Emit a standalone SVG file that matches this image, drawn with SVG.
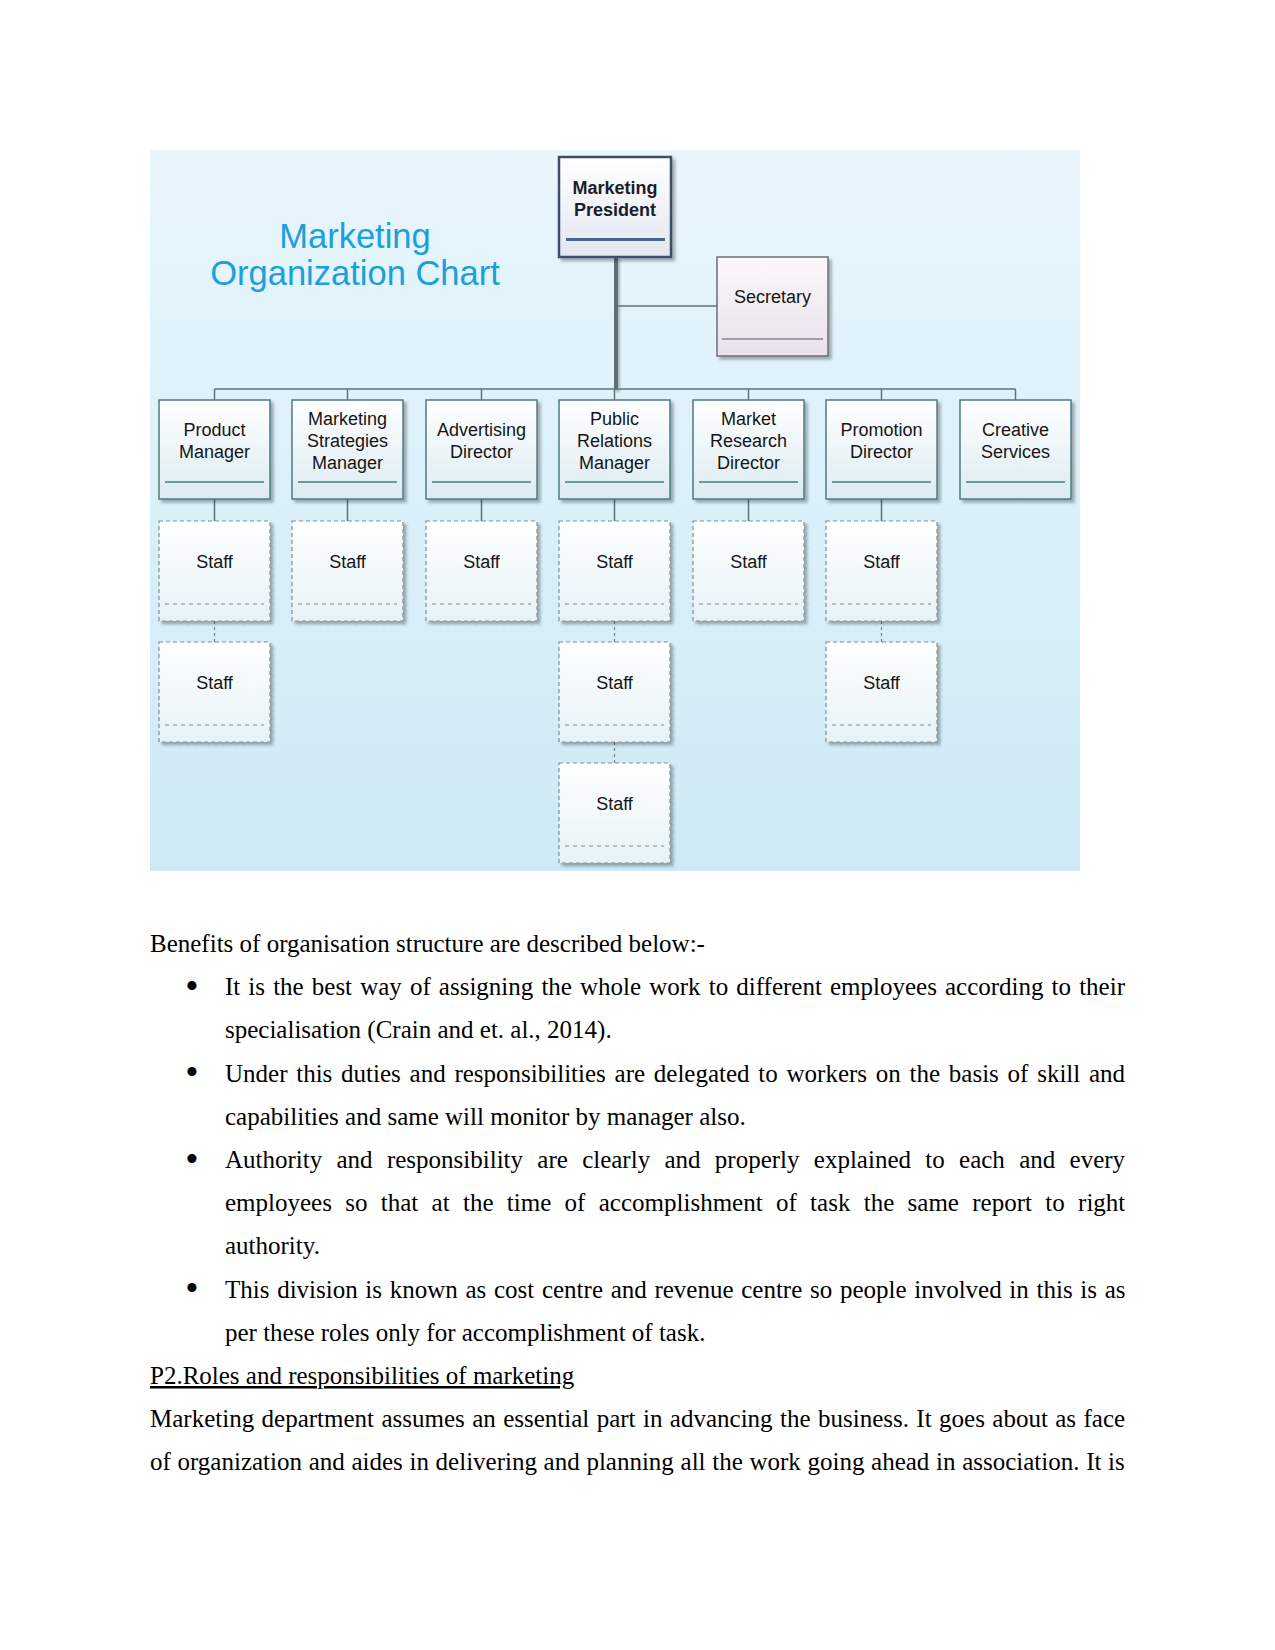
<svg xmlns="http://www.w3.org/2000/svg" width="1275" height="1650" viewBox="0 0 1275 1650">
<defs>
<linearGradient id="bg" x1="0" y1="0" x2="0" y2="1"><stop offset="0" stop-color="#e8f6fc"/><stop offset="1" stop-color="#cdeaf6"/></linearGradient>
<linearGradient id="gNode" x1="0" y1="0" x2="0" y2="1"><stop offset="0" stop-color="#ffffff"/><stop offset="1" stop-color="#dcebf2"/></linearGradient>
<linearGradient id="gPres" x1="0" y1="0" x2="0" y2="1"><stop offset="0" stop-color="#ffffff"/><stop offset="1" stop-color="#e2e6f1"/></linearGradient>
<linearGradient id="gSec" x1="0" y1="0" x2="0" y2="1"><stop offset="0" stop-color="#fbf8fc"/><stop offset="1" stop-color="#e9e0ec"/></linearGradient>
<linearGradient id="gStaff" x1="0" y1="0" x2="0" y2="1"><stop offset="0" stop-color="#ffffff"/><stop offset="1" stop-color="#e6f2f7"/></linearGradient>
<filter id="sh" x="-10%" y="-10%" width="130%" height="130%"><feDropShadow dx="3" dy="3" stdDeviation="1.5" flood-color="#000" flood-opacity="0.3"/></filter>
<filter id="shT" x="-100%" y="-5%" width="300%" height="115%"><feDropShadow dx="2" dy="2" stdDeviation="1" flood-color="#000" flood-opacity="0.25"/></filter>
</defs>
<style>
.box{fill:url(#gNode);stroke:#4f7a80;stroke-width:1.5;filter:url(#sh)}
.pres{fill:url(#gPres);stroke:#3d4f66;stroke-width:2.5;filter:url(#sh)}
.sec{fill:url(#gSec);stroke:#6e6e78;stroke-width:1.5;filter:url(#sh)}
.staff{fill:url(#gStaff);stroke:#858b8e;stroke-width:1.2;stroke-dasharray:4 3;filter:url(#sh)}
.ul{stroke:#3d7b82;stroke-width:1.5}
.uls{stroke:#7f878a;stroke-width:1;stroke-dasharray:4 4}
.t{font-family:"Liberation Sans",Arial,sans-serif;font-size:18px;fill:#151515;text-anchor:middle}
.tb{font-family:"Liberation Sans",Arial,sans-serif;font-size:18px;font-weight:bold;fill:#1c1c2a;text-anchor:middle}
.title{font-family:"Liberation Sans",Arial,sans-serif;font-size:34.5px;fill:#1c9fdc;text-anchor:middle}
.c{stroke:#5d7378;stroke-width:1.5;fill:none}
.cd{stroke:#7a8286;stroke-width:1.2;stroke-dasharray:3 3;fill:none}
.body{font-family:"Liberation Serif","Times New Roman",serif;font-size:25px;fill:#000}
.bul{font-family:"Liberation Serif","Times New Roman",serif;font-size:38px;fill:#000;text-anchor:middle}
</style>
<rect x="150" y="150" width="930" height="721" fill="url(#bg)"/>
<g id="title">
<text class="title" x="355" y="248">Marketing</text>
<text class="title" x="355" y="285">Organization Chart</text>
</g>
<g id="connectors">
<rect x="614" y="257" width="4" height="133" fill="#5f6e72" filter="url(#shT)"/>
<line class="c" x1="618" y1="306" x2="717" y2="306"/>
<line class="c" x1="214.5" y1="389" x2="1015.5" y2="389" stroke-width="2"/>
<line class="c" x1="214.5" y1="389" x2="214.5" y2="400"/>
<line class="c" x1="347.5" y1="389" x2="347.5" y2="400"/>
<line class="c" x1="481.5" y1="389" x2="481.5" y2="400"/>
<line class="c" x1="614.5" y1="389" x2="614.5" y2="400"/>
<line class="c" x1="748.5" y1="389" x2="748.5" y2="400"/>
<line class="c" x1="881.5" y1="389" x2="881.5" y2="400"/>
<line class="c" x1="1015.5" y1="389" x2="1015.5" y2="400"/>
<line class="c" x1="214.5" y1="499" x2="214.5" y2="521"/>
<line class="c" x1="347.5" y1="499" x2="347.5" y2="521"/>
<line class="c" x1="481.5" y1="499" x2="481.5" y2="521"/>
<line class="c" x1="614.5" y1="499" x2="614.5" y2="521"/>
<line class="c" x1="748.5" y1="499" x2="748.5" y2="521"/>
<line class="c" x1="881.5" y1="499" x2="881.5" y2="521"/>
<line class="cd" x1="214.5" y1="621" x2="214.5" y2="642"/>
<line class="cd" x1="614.5" y1="621" x2="614.5" y2="642"/>
<line class="cd" x1="881.5" y1="621" x2="881.5" y2="642"/>
<line class="cd" x1="614.5" y1="742" x2="614.5" y2="763"/>
</g>
<g id="president">
<rect class="pres" x="559" y="157" width="112" height="100"/>
<line x1="566" y1="239.5" x2="665" y2="239.5" stroke="#4a6488" stroke-width="3"/>
<text class="tb" x="615" y="194">Marketing</text>
<text class="tb" x="615" y="216">President</text>
</g>
<g id="secretary">
<rect class="sec" x="717" y="257" width="111" height="99"/>
<line x1="722" y1="339" x2="823" y2="339" stroke="#555a60" stroke-width="1"/>
<text class="t" x="772.5" y="303">Secretary</text>
</g>
<g id="product-manager">
<rect class="box" x="159" y="400" width="111" height="99"/>
<line class="ul" x1="165" y1="482" x2="264" y2="482"/>
<text class="t" x="214.5" y="436">Product</text>
<text class="t" x="214.5" y="458">Manager</text>
</g>
<g id="marketing-strategies-manager">
<rect class="box" x="292" y="400" width="111" height="99"/>
<line class="ul" x1="298" y1="482" x2="397" y2="482"/>
<text class="t" x="347.5" y="425">Marketing</text>
<text class="t" x="347.5" y="447">Strategies</text>
<text class="t" x="347.5" y="469">Manager</text>
</g>
<g id="advertising-director">
<rect class="box" x="426" y="400" width="111" height="99"/>
<line class="ul" x1="432" y1="482" x2="531" y2="482"/>
<text class="t" x="481.5" y="436">Advertising</text>
<text class="t" x="481.5" y="458">Director</text>
</g>
<g id="public-relations-manager">
<rect class="box" x="559" y="400" width="111" height="99"/>
<line class="ul" x1="565" y1="482" x2="664" y2="482"/>
<text class="t" x="614.5" y="425">Public</text>
<text class="t" x="614.5" y="447">Relations</text>
<text class="t" x="614.5" y="469">Manager</text>
</g>
<g id="market-research-director">
<rect class="box" x="693" y="400" width="111" height="99"/>
<line class="ul" x1="699" y1="482" x2="798" y2="482"/>
<text class="t" x="748.5" y="425">Market</text>
<text class="t" x="748.5" y="447">Research</text>
<text class="t" x="748.5" y="469">Director</text>
</g>
<g id="promotion-director">
<rect class="box" x="826" y="400" width="111" height="99"/>
<line class="ul" x1="832" y1="482" x2="931" y2="482"/>
<text class="t" x="881.5" y="436">Promotion</text>
<text class="t" x="881.5" y="458">Director</text>
</g>
<g id="creative-services">
<rect class="box" x="960" y="400" width="111" height="99"/>
<line class="ul" x1="966" y1="482" x2="1065" y2="482"/>
<text class="t" x="1015.5" y="436">Creative</text>
<text class="t" x="1015.5" y="458">Services</text>
</g>
<g id="staff-pm-1"><rect class="staff" x="159" y="521" width="111" height="100"/><line class="uls" x1="165" y1="604" x2="264" y2="604"/><text class="t" x="214.5" y="568">Staff</text></g>
<g id="staff-msm-1"><rect class="staff" x="292" y="521" width="111" height="100"/><line class="uls" x1="298" y1="604" x2="397" y2="604"/><text class="t" x="347.5" y="568">Staff</text></g>
<g id="staff-ad-1"><rect class="staff" x="426" y="521" width="111" height="100"/><line class="uls" x1="432" y1="604" x2="531" y2="604"/><text class="t" x="481.5" y="568">Staff</text></g>
<g id="staff-prm-1"><rect class="staff" x="559" y="521" width="111" height="100"/><line class="uls" x1="565" y1="604" x2="664" y2="604"/><text class="t" x="614.5" y="568">Staff</text></g>
<g id="staff-mrd-1"><rect class="staff" x="693" y="521" width="111" height="100"/><line class="uls" x1="699" y1="604" x2="798" y2="604"/><text class="t" x="748.5" y="568">Staff</text></g>
<g id="staff-pd-1"><rect class="staff" x="826" y="521" width="111" height="100"/><line class="uls" x1="832" y1="604" x2="931" y2="604"/><text class="t" x="881.5" y="568">Staff</text></g>
<g id="staff-pm-2"><rect class="staff" x="159" y="642" width="111" height="100"/><line class="uls" x1="165" y1="725" x2="264" y2="725"/><text class="t" x="214.5" y="689">Staff</text></g>
<g id="staff-prm-2"><rect class="staff" x="559" y="642" width="111" height="100"/><line class="uls" x1="565" y1="725" x2="664" y2="725"/><text class="t" x="614.5" y="689">Staff</text></g>
<g id="staff-pd-2"><rect class="staff" x="826" y="642" width="111" height="100"/><line class="uls" x1="832" y1="725" x2="931" y2="725"/><text class="t" x="881.5" y="689">Staff</text></g>
<g id="staff-prm-3"><rect class="staff" x="559" y="763" width="111" height="100"/><line class="uls" x1="565" y1="846" x2="664" y2="846"/><text class="t" x="614.5" y="810">Staff</text></g>
<g id="body-text">
<text class="body" x="150" y="952">Benefits of organisation structure are described below:-</text>
<text class="bul" x="192" y="999">•</text>
<text class="body" x="225" y="995.2" word-spacing="1.85">It is the best way of assigning the whole work to different employees according to their</text>
<text class="body" x="225" y="1038.4">specialisation (Crain and et. al., 2014).</text>
<text class="bul" x="192" y="1085.4">•</text>
<text class="body" x="225" y="1081.6" word-spacing="2.5">Under this duties and responsibilities are delegated to workers on the basis of skill and</text>
<text class="body" x="225" y="1124.8">capabilities and same will monitor by manager also.</text>
<text class="bul" x="192" y="1171.8">•</text>
<text class="body" x="225" y="1168" word-spacing="8.05">Authority and responsibility are clearly and properly explained to each and every</text>
<text class="body" x="225" y="1211.2" word-spacing="7.08">employees so that at the time of accomplishment of task the same report to right</text>
<text class="body" x="225" y="1254.4">authority.</text>
<text class="bul" x="192" y="1301.4">•</text>
<text class="body" x="225" y="1297.6" word-spacing="1.43">This division is known as cost centre and revenue centre so people involved in this is as</text>
<text class="body" x="225" y="1340.8">per these roles only for accomplishment of task.</text>
<text class="body" x="150" y="1384" text-decoration="underline">P2.Roles and responsibilities of marketing</text>
<text class="body" x="150" y="1427.2" word-spacing="1.17">Marketing department assumes an essential part in advancing the business. It goes about as face</text>
<text class="body" x="150" y="1470.4" word-spacing="0.42">of organization and aides in delivering and planning all the work going ahead in association. It is</text>
</g>
</svg>
